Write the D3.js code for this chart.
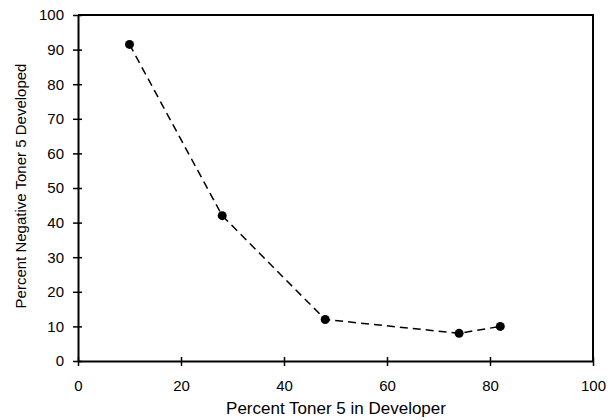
<!DOCTYPE html>
<html>
<head>
<meta charset="utf-8">
<script src="https://cdn.jsdelivr.net/npm/d3@7"></script>
<style>
  body { margin: 0; background: #fff; }
  svg { display: block; font-family: "Liberation Sans", Arial, sans-serif; }
</style>
</head>
<body>
<svg id="chart" width="615" height="420"></svg>
<script>
// data
const tonerPct = [10, 28, 48, 74, 82];
const negativeDeveloped = [91.5, 42, 12, 8, 10];
const xTicks = [0, 20, 40, 60, 80, 100];
const yTicks = [0, 10, 20, 30, 40, 50, 60, 70, 80, 90, 100];

const svg = d3.select('#chart');
const margin = { top: 15, right: 22, bottom: 59, left: 78 };
const width = 615 - margin.left - margin.right;
const height = 420 - margin.top - margin.bottom;

const x = d3.scaleLinear().domain([0, 100]).range([0, width]);
const y = d3.scaleLinear().domain([0, 100]).range([height, 0]);

const g = svg.append('g').attr('transform', `translate(${margin.left},${margin.top})`);

// frame (top and right edges)
g.append('path')
    .attr('d', `M0,0H${width}V${height}`)
    .attr('fill', 'none')
    .attr('stroke', '#000')
    .attr('stroke-width', 2);

const xAxis = g.append('g')
    .attr('transform', `translate(0,${height})`)
    .call(d3.axisBottom(x).tickValues(xTicks).tickSize(5).tickSizeOuter(0));
xAxis.selectAll('.tick line').attr('y1', -4);

const yAxis = g.append('g')
    .call(d3.axisLeft(y).tickValues(yTicks).tickSize(5).tickSizeOuter(0));
yAxis.selectAll('.tick line').attr('x1', 4);

[xAxis, yAxis].forEach(a => {
    a.select('.domain').attr('stroke-width', 2);
    a.selectAll('.tick line').attr('stroke-width', 1.5);
    a.selectAll('.tick text').attr('font-size', 15).attr('fill', '#000')
        .attr('font-family', '"Liberation Sans", Arial, sans-serif');
});
xAxis.selectAll('.tick text').attr('y', 19);
yAxis.selectAll('.tick text').attr('x', -14);

const pts = tonerPct.map((d, i) => ({ x: d, y: negativeDeveloped[i] }));

g.append('path')
    .datum(pts)
    .attr('fill', 'none')
    .attr('stroke', '#000')
    .attr('stroke-width', 1.5)
    .attr('stroke-dasharray', '8,5')
    .attr('d', d3.line().x(d => x(d.x)).y(d => y(d.y)));

g.selectAll('circle.pt')
    .data(pts)
    .join('circle')
    .attr('class', 'pt')
    .attr('cx', d => x(d.x))
    .attr('cy', d => y(d.y))
    .attr('r', 4.5)
    .attr('fill', '#000');

svg.append('text')
    .attr('x', 336)
    .attr('y', 414)
    .attr('text-anchor', 'middle')
    .attr('font-size', 17)
    .text('Percent Toner 5 in Developer');

svg.append('text')
    .attr('transform', 'translate(26,186) rotate(-90)')
    .attr('text-anchor', 'middle')
    .attr('font-size', 15)
    .text('Percent Negative Toner 5 Developed');
</script>
</body>
</html>
